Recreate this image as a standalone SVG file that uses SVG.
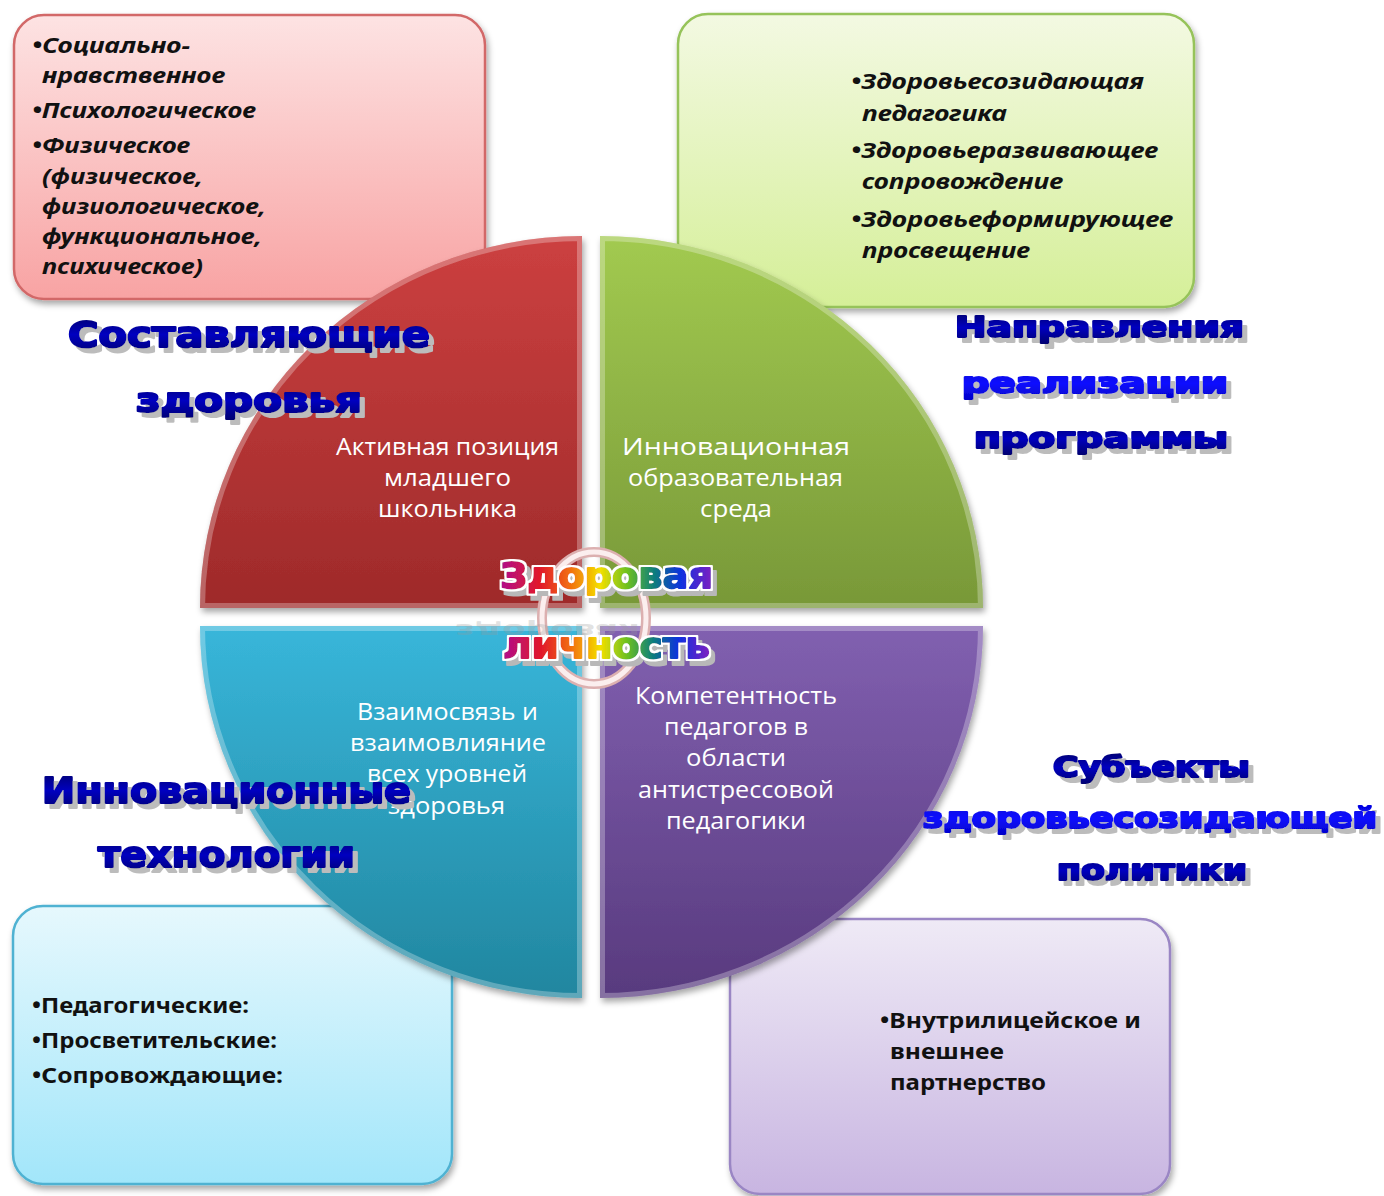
<svg xmlns="http://www.w3.org/2000/svg" width="1384" height="1196" viewBox="0 0 1384 1196">
<defs>
<style>
.bt{font-family:"Noto Sans","Open Sans","DejaVu Sans",sans-serif;font-size:22px;font-weight:700;fill:#111}
.it{font-style:italic}
.qt{font-family:"Open Sans","Noto Sans",sans-serif;font-size:24px;fill:#fff}
.ti{font-family:"DejaVu Sans","Liberation Sans",sans-serif;font-weight:bold;filter:url(#tsh)}
.nv{fill:url(#gNavy);stroke:url(#gNavy);stroke-width:2.2;stroke-linejoin:round}
.br{fill:url(#gBright);stroke:url(#gBright);stroke-width:2.2;stroke-linejoin:round}
.rb{font-family:"DejaVu Sans","Liberation Sans",sans-serif;font-weight:bold;fill:url(#gRain);stroke:url(#gRain);stroke-width:1.8;stroke-linejoin:round;filter:url(#rsh)}
.bev{fill:none;stroke:#fff;stroke-opacity:.28;stroke-width:10}
</style>
<linearGradient id="gNavy" x1="0" y1="0" x2="0" y2="1"><stop offset="0" stop-color="#00006a"/><stop offset=".5" stop-color="#0000c0"/><stop offset="1" stop-color="#000070"/></linearGradient>
<linearGradient id="gBright" x1="0" y1="0" x2="0" y2="1"><stop offset="0" stop-color="#0000d8"/><stop offset=".5" stop-color="#1010ff"/><stop offset="1" stop-color="#0000c8"/></linearGradient>
<linearGradient id="gRain" x1="0" y1="0" x2="1" y2="0"><stop offset="0" stop-color="#b0108c"/><stop offset=".18" stop-color="#e0142c"/><stop offset=".33" stop-color="#f27010"/><stop offset=".47" stop-color="#f4e000"/><stop offset=".6" stop-color="#6cc020"/><stop offset=".72" stop-color="#10807a"/><stop offset=".85" stop-color="#1030e0"/><stop offset="1" stop-color="#8020c0"/></linearGradient>
<linearGradient id="bxR" x1="0" y1="0" x2="0" y2="1"><stop offset="0" stop-color="#fde3e3"/><stop offset="1" stop-color="#f8a3a3"/></linearGradient>
<linearGradient id="bxG" x1="0" y1="0" x2="0" y2="1"><stop offset="0" stop-color="#f3f9e2"/><stop offset="1" stop-color="#d5ef98"/></linearGradient>
<linearGradient id="bxB" x1="0" y1="0" x2="0" y2="1"><stop offset="0" stop-color="#e6f8fd"/><stop offset="1" stop-color="#a2e6fa"/></linearGradient>
<linearGradient id="bxP" x1="0" y1="0" x2="0" y2="1"><stop offset="0" stop-color="#efeaf6"/><stop offset="1" stop-color="#c8b5e1"/></linearGradient>
<linearGradient id="qgR" x1="0" y1="0" x2="0" y2="1"><stop offset="0" stop-color="#cc4040"/><stop offset="1" stop-color="#9e2a2a"/></linearGradient>
<linearGradient id="qgG" x1="0" y1="0" x2="0" y2="1"><stop offset="0" stop-color="#a2ca50"/><stop offset="1" stop-color="#789838"/></linearGradient>
<linearGradient id="qgB" x1="0" y1="0" x2="0" y2="1"><stop offset="0" stop-color="#38b6da"/><stop offset="1" stop-color="#21869f"/></linearGradient>
<linearGradient id="qgP" x1="0" y1="0" x2="0" y2="1"><stop offset="0" stop-color="#8160b0"/><stop offset="1" stop-color="#583a7e"/></linearGradient>
<filter id="ds" x="-10%" y="-10%" width="125%" height="125%"><feDropShadow dx="2" dy="4" stdDeviation="3" flood-color="#000" flood-opacity=".35"/></filter>
<filter id="tsh" x="-5%" y="-30%" width="115%" height="180%">
<feOffset in="SourceAlpha" dx="5" dy="5" result="o"/>
<feFlood flood-color="#bcbcbc"/>
<feComposite in2="o" operator="in" result="s"/>
<feMerge><feMergeNode in="s"/><feMergeNode in="SourceGraphic"/></feMerge>
</filter>
<filter id="rsh" x="-5%" y="-40%" width="115%" height="190%">
<feMorphology in="SourceAlpha" operator="dilate" radius="2" result="d"/>
<feOffset in="d" dx="4" dy="5" result="od"/>
<feFlood flood-color="#b8b8b8"/>
<feComposite in2="od" operator="in" result="shadow"/>
<feFlood flood-color="#ffffff"/>
<feComposite in2="d" operator="in" result="white"/>
<feMerge><feMergeNode in="shadow"/><feMergeNode in="white"/><feMergeNode in="SourceGraphic"/></feMerge>
</filter>
<path id="pR" d="M582,236 L582,608 L200,608 A382,372 0 0 1 582,236 Z"/>
<path id="pG" d="M600,236 A383,372 0 0 1 983,608 L600,608 Z"/>
<path id="pP" d="M983,626 A383,372 0 0 1 600,998 L600,626 Z"/>
<path id="pB" d="M582,998 A382,372 0 0 1 200,626 L582,626 Z"/>
<clipPath id="cR"><use href="#pR"/></clipPath>
<clipPath id="cG"><use href="#pG"/></clipPath>
<clipPath id="cP"><use href="#pP"/></clipPath>
<clipPath id="cB"><use href="#pB"/></clipPath>
</defs>
<rect width="1384" height="1196" fill="#fff"/>

<g id="box-components">
<rect x="14" y="15" width="471" height="284" rx="30" fill="url(#bxR)" stroke="#d26868" stroke-width="2.5" filter="url(#ds)"/>
<text class="bt it" x="32" y="53" textLength="158" lengthAdjust="spacingAndGlyphs">•Социально-</text>
<text class="bt it" x="42" y="83" textLength="183" lengthAdjust="spacingAndGlyphs">нравственное</text>
<text class="bt it" x="32" y="118" textLength="224" lengthAdjust="spacingAndGlyphs">•Психологическое</text>
<text class="bt it" x="32" y="153" textLength="158" lengthAdjust="spacingAndGlyphs">•Физическое</text>
<text class="bt it" x="42" y="184" textLength="161" lengthAdjust="spacingAndGlyphs">(физическое,</text>
<text class="bt it" x="42" y="214" textLength="224" lengthAdjust="spacingAndGlyphs">физиологическое,</text>
<text class="bt it" x="42" y="244" textLength="220" lengthAdjust="spacingAndGlyphs">функциональное,</text>
<text class="bt it" x="42" y="274" textLength="161" lengthAdjust="spacingAndGlyphs">психическое)</text>
</g>

<g id="box-directions">
<rect x="678" y="14" width="516" height="293" rx="30" fill="url(#bxG)" stroke="#96c35a" stroke-width="2.5" filter="url(#ds)"/>
<text class="bt it" x="851" y="89" textLength="293" lengthAdjust="spacingAndGlyphs">•Здоровьесозидающая</text>
<text class="bt it" x="862" y="121" textLength="145" lengthAdjust="spacingAndGlyphs">педагогика</text>
<text class="bt it" x="851" y="158" textLength="307" lengthAdjust="spacingAndGlyphs">•Здоровьеразвивающее</text>
<text class="bt it" x="862" y="189" textLength="201" lengthAdjust="spacingAndGlyphs">сопровождение</text>
<text class="bt it" x="851" y="227" textLength="322" lengthAdjust="spacingAndGlyphs">•Здоровьеформирующее</text>
<text class="bt it" x="862" y="258" textLength="168" lengthAdjust="spacingAndGlyphs">просвещение</text>
</g>

<g id="box-technologies">
<rect x="13" y="906" width="439" height="278" rx="30" fill="url(#bxB)" stroke="#4fb2d2" stroke-width="2.5" filter="url(#ds)"/>
<text class="bt" x="32" y="1013" textLength="217" lengthAdjust="spacingAndGlyphs">•Педагогические:</text>
<text class="bt" x="32" y="1048" textLength="245" lengthAdjust="spacingAndGlyphs">•Просветительские:</text>
<text class="bt" x="32" y="1083" textLength="251" lengthAdjust="spacingAndGlyphs">•Сопровождающие:</text>
</g>

<g id="box-subjects">
<rect x="730" y="919" width="440" height="275" rx="30" fill="url(#bxP)" stroke="#9a86c4" stroke-width="2.5" filter="url(#ds)"/>
<text class="bt" x="880" y="1028" textLength="261" lengthAdjust="spacingAndGlyphs">•Внутрилицейское и</text>
<text class="bt" x="890" y="1059" textLength="114" lengthAdjust="spacingAndGlyphs">внешнее</text>
<text class="bt" x="890" y="1090" textLength="156" lengthAdjust="spacingAndGlyphs">партнерство</text>
</g>

<g id="quadrant-red">
<use href="#pR" fill="url(#qgR)" filter="url(#ds)"/>
<use href="#pR" class="bev" clip-path="url(#cR)"/>
<text class="qt" x="336" y="455" textLength="223" lengthAdjust="spacingAndGlyphs">Активная позиция</text>
<text class="qt" x="384" y="486" textLength="127" lengthAdjust="spacingAndGlyphs">младшего</text>
<text class="qt" x="378" y="517" textLength="139" lengthAdjust="spacingAndGlyphs">школьника</text>
</g>

<g id="quadrant-green">
<use href="#pG" fill="url(#qgG)" filter="url(#ds)"/>
<use href="#pG" class="bev" clip-path="url(#cG)"/>
<text class="qt" x="622" y="455" textLength="228" lengthAdjust="spacingAndGlyphs">Инновационная</text>
<text class="qt" x="628" y="486" textLength="215" lengthAdjust="spacingAndGlyphs">образовательная</text>
<text class="qt" x="700" y="517" textLength="72" lengthAdjust="spacingAndGlyphs">среда</text>
</g>

<g id="quadrant-blue">
<use href="#pB" fill="url(#qgB)" filter="url(#ds)"/>
<use href="#pB" class="bev" clip-path="url(#cB)"/>
<text class="qt" x="357" y="720" textLength="181" lengthAdjust="spacingAndGlyphs">Взаимосвязь и</text>
<text class="qt" x="350" y="751" textLength="196" lengthAdjust="spacingAndGlyphs">взаимовлияние</text>
<text class="qt" x="367" y="782" textLength="160" lengthAdjust="spacingAndGlyphs">всех уровней</text>
<text class="qt" x="388" y="814" textLength="117" lengthAdjust="spacingAndGlyphs">здоровья</text>
</g>

<g id="quadrant-purple">
<use href="#pP" fill="url(#qgP)" filter="url(#ds)"/>
<use href="#pP" class="bev" clip-path="url(#cP)"/>
<text class="qt" x="635" y="704" textLength="202" lengthAdjust="spacingAndGlyphs">Компетентность</text>
<text class="qt" x="664" y="735" textLength="144" lengthAdjust="spacingAndGlyphs">педагогов в</text>
<text class="qt" x="686" y="766" textLength="100" lengthAdjust="spacingAndGlyphs">области</text>
<text class="qt" x="638" y="798" textLength="196" lengthAdjust="spacingAndGlyphs">антистрессовой</text>
<text class="qt" x="666" y="829" textLength="140" lengthAdjust="spacingAndGlyphs">педагогики</text>
</g>

<g id="connectors"></g>

<g id="title-components">
<text class="ti nv" x="68" y="347" font-size="36" textLength="362" lengthAdjust="spacingAndGlyphs">Составляющие</text>
<text class="ti nv" x="136" y="412" font-size="33" textLength="226" lengthAdjust="spacingAndGlyphs">здоровья</text>
</g>

<g id="title-directions">
<text class="ti nv" x="955" y="337" font-size="28" textLength="289" lengthAdjust="spacingAndGlyphs">Направления</text>
<text class="ti br" x="962" y="393" font-size="28" textLength="266" lengthAdjust="spacingAndGlyphs">реализации</text>
<text class="ti nv" x="974" y="448" font-size="28" textLength="254" lengthAdjust="spacingAndGlyphs">программы</text>
</g>

<g id="title-technologies">
<text class="ti nv" x="42" y="803" font-size="36" textLength="369" lengthAdjust="spacingAndGlyphs">Инновационные</text>
<text class="ti nv" x="98" y="867" font-size="35" textLength="257" lengthAdjust="spacingAndGlyphs">технологии</text>
</g>

<g id="title-subjects">
<text class="ti nv" x="1053" y="777" font-size="28" textLength="197" lengthAdjust="spacingAndGlyphs">Субъекты</text>
<text class="ti br" x="923" y="828" font-size="28" textLength="454" lengthAdjust="spacingAndGlyphs">здоровьесозидающей</text>
<text class="ti nv" x="1057" y="880" font-size="28" textLength="190" lengthAdjust="spacingAndGlyphs">политики</text>
</g>

<g id="center">
<ellipse cx="594" cy="618" rx="52" ry="66" fill="none" stroke="#dcb0b0" stroke-width="10"/>
<ellipse cx="594" cy="618" rx="52" ry="66" fill="none" stroke="#fbeeee" stroke-width="5"/>
<text x="455" y="622" font-family="DejaVu Sans, sans-serif" font-weight="bold" font-size="20" fill="#9a9a9a" fill-opacity=".3" textLength="185" lengthAdjust="spacingAndGlyphs" transform="translate(0,1246) scale(1,-1)">здоровая</text>
<text class="rb" x="500" y="588" font-size="36" textLength="213" lengthAdjust="spacingAndGlyphs">Здоровая</text>
<text class="rb" x="503" y="658" font-size="36" textLength="207" lengthAdjust="spacingAndGlyphs">личность</text>
</g>
</svg>
